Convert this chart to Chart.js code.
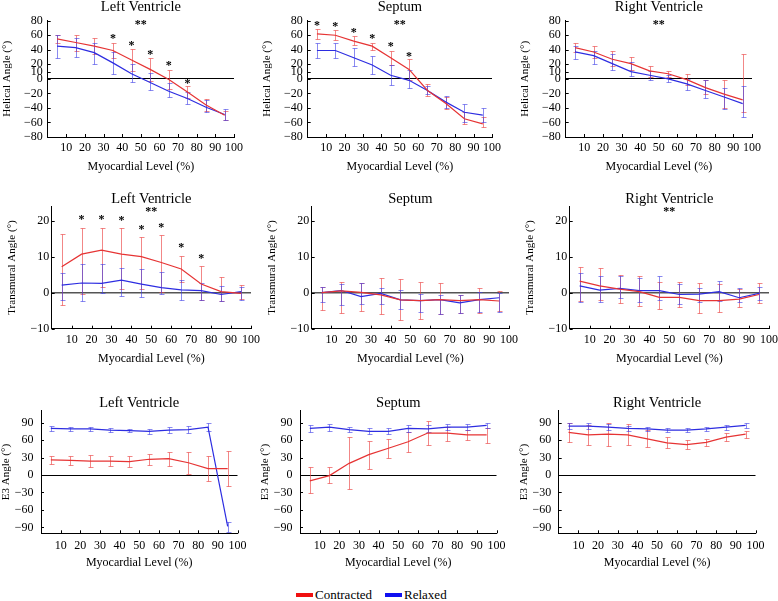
<!DOCTYPE html>
<html><head><meta charset="utf-8">
<script src="https://cdn.jsdelivr.net/npm/chart.js@4.4.1/dist/chart.umd.min.js"></script>
<style>
html,body{margin:0;padding:0;background:#fff;}
body{width:778px;height:601px;overflow:hidden;position:relative;font-family:"Liberation Serif","DejaVu Serif",serif;}
.p{position:absolute;}
#legend{position:absolute;top:587px;left:296px;font-size:13px;line-height:16px;color:#000;white-space:nowrap;}
#legend .sw{display:inline-block;width:17px;height:4px;vertical-align:middle;margin-right:2px;position:relative;top:-1px;}
</style></head><body>
<div id="legend"><span class="sw" style="background:#f01010"></span>Contracted<span class="sw" style="background:#1010f0;margin-left:13px"></span>Relaxed</div>
<script>
// ---------- shared axes ----------
const levels = [5,15,25,35,45,55,65,75,85,95];
const xTickValues = [10,20,30,40,50,60,70,80,90,100];
const helicalTicks = [80,60,40,20,10,0,-20,-40,-60,-80];
const transmuralTicks = [20,10,0,-10];
const e3Ticks = [90,60,30,0,-30,-60,-90];
const xLabel = 'Myocardial Level (%)';
const seriesNames = ['Contracted','Relaxed'];

// ---------- Helical angle ----------
const helLV_con    = [55,50,45,39,26,13,-1,-18,-36,-50];
const helLV_con_lo = [49,39,34,28,11,-3,-14,-26,-44,-56];
const helLV_con_hi = [61,61,56,50,41,29,12,-10,-28,-44];
const helLV_rel    = [45,43,36,22,7,-5,-17,-27,-39,-49];
const helLV_rel_lo = [28,30,21,6,-4,-15,-25,-35,-46,-57];
const helLV_rel_hi = [61,56,49,37,21,8,-6,-18,-29,-41];

const helSE_con    = [62,60,52,45,29,13,-16,-34,-55,-62];
const helSE_con_lo = [55,53,47,40,19,-1,-24,-42,-62,-66];
const helSE_con_hi = [69,67,59,50,39,27,-7,-25,-46,-53];
const helSE_rel    = [39,39,29,19,5,-2,-16,-32,-46,-50];
const helSE_rel_lo = [29,29,17,7,-9,-13,-21,-40,-59,-60];
const helSE_rel_hi = [50,49,42,31,19,12,-10,-23,-34,-40];

const helRV_con    = [43,37,27,21,11,7,-1,-12,-21,-29];
const helRV_con_lo = [37,29,17,12,3,3,-8,-21,-40,-45];
const helRV_con_hi = [49,45,38,30,18,11,7,-2,-2,34];
const helRV_rel    = [37,32,21,10,5,0,-7,-16,-25,-34];
const helRV_rel_lo = [27,20,12,4,-1,-5,-15,-26,-41,-52];
const helRV_rel_hi = [45,39,34,23,11,5,0,-2,-13,-10];

// ---------- Transmural angle ----------
const trLV_con    = [7.2,10.7,11.8,10.7,10,8.4,6.6,2.4,0.3,-0.2];
const trLV_con_lo = [-3.5,-0.3,1.5,1,1,0.3,2.9,-2,-2.2,-1.8];
const trLV_con_hi = [16.2,18,18.1,18,15.4,16,10.3,7.5,4.3,2];
const trLV_rel    = [2.1,2.7,2.6,3.5,2.4,1.4,0.8,0.6,-0.5,0.3];
const trLV_rel_lo = [-2,-2.3,0,-0.8,-1.1,-0.3,-1.9,-2,-2.2,-2];
const trLV_rel_hi = [5.6,7.9,7.9,6.8,6.5,5.7,3.5,2.8,1.9,1.7];

const trSE_con    = [0,0.5,0.1,-0.6,-2,-2.2,-1.9,-2.2,-1.9,-2.3];
const trSE_con_lo = [-4.7,-5.5,-5,-5.9,-7.7,-7.3,-6,-5.5,-5.5,-5.2];
const trSE_con_hi = [1.7,3.1,2.6,4,3.7,2.9,2.7,-0.6,1.4,0.5];
const trSE_rel    = [0,0.6,-1.1,-0.2,-2,-2.2,-1.9,-2.8,-1.9,-1.4];
const trSE_rel_lo = [-2.7,-3.5,-3.2,-3.2,-4.4,-5.3,-5.9,-5.7,-5.3,-5.3];
const trSE_rel_hi = [1.7,2.3,2.7,1.2,0.8,-0.3,-0.5,-0.5,0.1,0];

const trRV_con    = [3.2,1.9,1,0.3,-1.3,-1.3,-2.2,-2.2,-1.8,-0.5];
const trRV_con_lo = [-2.3,-2,-2.9,-3.6,-4.5,-4.1,-5.6,-5.3,-4.1,-2.9];
const trRV_con_hi = [7.2,6.8,4.9,4.7,3.1,3.1,2.6,2.4,1,2.6];
const trRV_rel    = [1.9,0.7,1.2,0.6,0.6,-0.5,-0.4,0.3,-1.4,-0.2];
const trRV_rel_lo = [-2.5,-2.5,-1.6,-2.5,-2,-3.2,-2.5,-2.3,-2.5,-2];
const trRV_rel_hi = [5.6,4.6,4.6,4.2,4.6,2.4,1.2,3.3,1.2,1.7];

// ---------- E3 angle ----------
const e3LV_con    = [26,25,24,24,23,27,28,21,11,11];
const e3LV_con_lo = [19,17,14,15,13,18,16,2,-11,-19];
const e3LV_con_hi = [33,33,34,33,33,36,40,40,33,41];
const e3LV_rel    = [80,79,79,77,76,75,77,78,82,-88];
const e3LV_rel_lo = [76,76,76,74,73,71,72,72,75,-97];
const e3LV_rel_hi = [84,82,82,80,79,79,82,84,89,-80];

const e3SE_con    = [-10,-1,20,35,46,57,72,72,69,69];
const e3SE_con_lo = [-31,-14,-24,11,30,40,52,59,60,55];
const e3SE_con_hi = [13,14,66,59,62,73,92,82,77,80];
const e3SE_rel    = [80,82,78,75,75,80,79,82,82,85];
const e3SE_rel_lo = [74,76,73,70,70,74,73,77,77,80];
const e3SE_rel_hi = [86,88,83,80,80,86,85,87,87,90];

const e3RV_con    = [73,69,70,69,62,55,52,56,65,70];
const e3RV_con_lo = [56,52,50,52,48,46,44,50,58,64];
const e3RV_con_hi = [90,86,90,87,78,66,60,62,72,76];
const e3RV_rel    = [84,84,82,80,79,77,77,79,82,85];
const e3RV_rel_lo = [79,79,77,76,75,73,73,75,78,80];
const e3RV_rel_hi = [89,89,87,84,83,81,81,83,86,90];

// ---------- significance markers ----------
const helLV_starX = [35,45,55,65,75];
const helLV_starY = [59,49,36,21,-3];
const helSE_starX = [5,15,25,35,45,55];
const helSE_starY = [76,75,67,58,48,34];
const trLV_starX  = [15,25,35,45,55,65,75];
const trLV_starY  = [20.8,20.8,20.5,18.1,18.6,13,10.2];
const helDouble = [50,78];
const trDouble  = [50,23.2];

// ---------- styling / layout ----------
const FONT = "'Liberation Serif','DejaVu Serif',serif";
const RED = 'rgb(230,52,52)', RED_ERR = 'rgba(235,70,70,0.65)';
const BLUE = 'rgb(45,45,225)', BLUE_ERR = 'rgba(60,60,230,0.6)';

const rows = [
  {Y0:20.7, Y1:137, min:-80, max:80, ticks:helicalTicks, ylabel:'Helical Angle (°)', Wy:47, yPad:5, xPad:4, padTop:20, titleOff:9.7, zeroColor:'#000', zeroW:1},
  {Y0:206.3, Y1:328.7, min:-10, max:24, ticks:transmuralTicks, ylabel:'Transmural Angle (°)', Wy:46, yPad:2.5, xPad:4, padTop:24, titleOff:3, zeroColor:'#555', zeroW:1.6},
  {Y0:410.9, Y1:533.3, min:-100, max:110, ticks:e3Ticks, ylabel:'E3 Angle (°)', Wy:41, yPad:7.5, xPad:5.5, padTop:24, titleOff:3.6, zeroColor:'#000', zeroW:1}
];

const panels = [
  {row:0, X0:47.7, X1:235, title:'Left Ventricle', con:helLV_con, conLo:helLV_con_lo, conHi:helLV_con_hi, rel:helLV_rel, relLo:helLV_rel_lo, relHi:helLV_rel_hi, sx:helLV_starX, sy:helLV_starY, dbl:helDouble},
  {row:0, X0:307.7, X1:493.3, title:'Septum', con:helSE_con, conLo:helSE_con_lo, conHi:helSE_con_hi, rel:helSE_rel, relLo:helSE_rel_lo, relHi:helSE_rel_hi, sx:helSE_starX, sy:helSE_starY, dbl:helDouble},
  {row:0, X0:565.7, X1:753, title:'Right Ventricle', con:helRV_con, conLo:helRV_con_lo, conHi:helRV_con_hi, rel:helRV_rel, relLo:helRV_rel_lo, relHi:helRV_rel_hi, sx:[], sy:[], dbl:helDouble},
  {row:1, X0:51.7, X1:251.7, title:'Left Ventricle', con:trLV_con, conLo:trLV_con_lo, conHi:trLV_con_hi, rel:trLV_rel, relLo:trLV_rel_lo, relHi:trLV_rel_hi, sx:trLV_starX, sy:trLV_starY, dbl:trDouble},
  {row:1, X0:311.7, X1:510, title:'Septum', con:trSE_con, conLo:trSE_con_lo, conHi:trSE_con_hi, rel:trSE_rel, relLo:trSE_rel_lo, relHi:trSE_rel_hi, sx:[], sy:[], dbl:null},
  {row:1, X0:569.7, X1:769.7, title:'Right Ventricle', con:trRV_con, conLo:trRV_con_lo, conHi:trRV_con_hi, rel:trRV_rel, relLo:trRV_rel_lo, relHi:trRV_rel_hi, sx:[], sy:[], dbl:trDouble},
  {row:2, X0:41, X1:240, title:'Left Ventricle', con:e3LV_con, conLo:e3LV_con_lo, conHi:e3LV_con_hi, rel:e3LV_rel, relLo:e3LV_rel_lo, relHi:e3LV_rel_hi, sx:[], sy:[], dbl:null},
  {row:2, X0:300, X1:499.3, title:'Septum', con:e3SE_con, conLo:e3SE_con_lo, conHi:e3SE_con_hi, rel:e3SE_rel, relLo:e3SE_rel_lo, relHi:e3SE_rel_hi, sx:[], sy:[], dbl:null},
  {row:2, X0:558.7, X1:758, title:'Right Ventricle', con:e3RV_con, conLo:e3RV_con_lo, conHi:e3RV_con_hi, rel:e3RV_rel, relLo:e3RV_rel_lo, relHi:e3RV_rel_hi, sx:[], sy:[], dbl:null}
];

function fmt(v){ return v < 0 ? '\u2212' + Math.abs(v) : String(v); }

function makeDecor(p, r){
  return {
    id:'decor',
    beforeDatasetsDraw(chart){
      const ctx = chart.ctx, xs = chart.scales.x, ys = chart.scales.y;
      chart.data.datasets.forEach(ds => {
        ctx.save();
        ctx.strokeStyle = ds.errColor; ctx.lineWidth = 1;
        ds.data.forEach((pt, i) => {
          const px = Math.round(xs.getPixelForValue(pt.x)) + 0.5;
          const pl = Math.round(ys.getPixelForValue(ds.lo[i])) + 0.5;
          const ph = Math.round(ys.getPixelForValue(ds.hi[i])) + 0.5;
          ctx.beginPath();
          ctx.moveTo(px, pl); ctx.lineTo(px, ph);
          ctx.moveTo(px-2, pl); ctx.lineTo(px+3, pl);
          ctx.moveTo(px-2, ph); ctx.lineTo(px+3, ph);
          ctx.stroke();
        });
        ctx.restore();
      });
    },
    afterDraw(chart){
      const ctx = chart.ctx, xs = chart.scales.x, ys = chart.scales.y, a = chart.chartArea;
      ctx.save();
      ctx.strokeStyle = '#000'; ctx.lineWidth = 1;
      ctx.beginPath();
      xTickValues.forEach(v => { const px = Math.round(xs.getPixelForValue(v)) + 0.5; ctx.moveTo(px, a.bottom); ctx.lineTo(px, a.bottom - 3); });
      r.ticks.forEach(v => { const py = Math.round(ys.getPixelForValue(v)) + 0.5; ctx.moveTo(a.left, py); ctx.lineTo(a.left + 3, py); });
      ctx.stroke();
      ctx.fillStyle = '#000';
      ctx.font = '14.5px ' + FONT;
      ctx.textAlign = 'center'; ctx.textBaseline = 'alphabetic';
      ctx.fillText(p.title, (a.left + a.right)/2, a.top - r.titleOff);
      ctx.font = 'bold 12px ' + FONT;
      ctx.textBaseline = 'middle';
      p.sx.forEach((x, i) => ctx.fillText('*', xs.getPixelForValue(x), ys.getPixelForValue(p.sy[i]) + 2.5));
      if (p.dbl) ctx.fillText('**', xs.getPixelForValue(p.dbl[0]), ys.getPixelForValue(p.dbl[1]) + 2.5);
      ctx.restore();
    }
  };
}

panels.forEach(p => {
  const r = rows[p.row];
  const Hx = 37;
  const left = Math.round(p.X0 - r.Wy);
  const top = Math.round(r.Y0 - r.padTop);
  const padTop = r.Y0 - top;
  const W = Math.round(p.X1 + 12) - left;
  const H = Math.round(r.Y1 + Hx) - top;
  const padRight = W - (p.X1 - left);
  const padLeft = p.X0 - left - r.Wy;
  const padBottom = H - (r.Y1 - top) - Hx;
  const div = document.createElement('div');
  div.className = 'p';
  div.style.left = left + 'px';
  div.style.top = top + 'px';
  div.style.width = W + 'px';
  div.style.height = H + 'px';
  const cv = document.createElement('canvas');
  div.appendChild(cv);
  document.body.appendChild(div);
  new Chart(cv, {
    type:'line',
    data:{ datasets:[
      {label:seriesNames[0], data:levels.map((x,i)=>({x, y:p.con[i]})), lo:p.conLo, hi:p.conHi, errColor:RED_ERR, borderColor:RED, borderWidth:1.2, pointRadius:0, tension:0, fill:false},
      {label:seriesNames[1], data:levels.map((x,i)=>({x, y:p.rel[i]})), lo:p.relLo, hi:p.relHi, errColor:BLUE_ERR, borderColor:BLUE, borderWidth:1.2, pointRadius:0, tension:0, fill:false}
    ]},
    options:{
      responsive:true, maintainAspectRatio:false, animation:false, devicePixelRatio:1,
      layout:{padding:{top:padTop, right:padRight, bottom:padBottom, left:padLeft}},
      plugins:{legend:{display:false}, tooltip:{enabled:false}, title:{display:false}},
      scales:{
        x:{type:'linear', min:0, max:100,
           afterBuildTicks:s => { s.ticks = xTickValues.map(v => ({value:v})); },
           afterFit:s => { s.height = Hx; },
           grid:{display:false, drawTicks:false},
           border:{display:true, color:'#000', width:1},
           ticks:{autoSkip:false, maxRotation:0, minRotation:0, padding:r.xPad, color:'#000', font:{family:FONT, size:12}, callback:v => fmt(v)},
           title:{display:true, text:xLabel, color:'#000', padding:0, font:{family:FONT, size:12}}
        },
        y:{type:'linear', min:r.min, max:r.max,
           afterBuildTicks:s => { s.ticks = r.ticks.slice().sort((a,b)=>a-b).map(v => ({value:v})); },
           afterFit:s => { s.width = r.Wy; },
           grid:{drawTicks:false, color:c => (c.tick && c.tick.value === 0) ? r.zeroColor : 'rgba(0,0,0,0)', lineWidth:c => (c.tick && c.tick.value === 0) ? r.zeroW : 1},
           border:{display:true, color:'#000', width:1},
           ticks:{autoSkip:false, padding:r.yPad, color:'#000', font:{family:FONT, size:12}, callback:v => fmt(v)},
           title:{display:true, text:r.ylabel, color:'#000', padding:0, font:{family:FONT, size:11}}
        }
      }
    },
    plugins:[makeDecor(p, r)]
  });
});
</script>
</body></html>
